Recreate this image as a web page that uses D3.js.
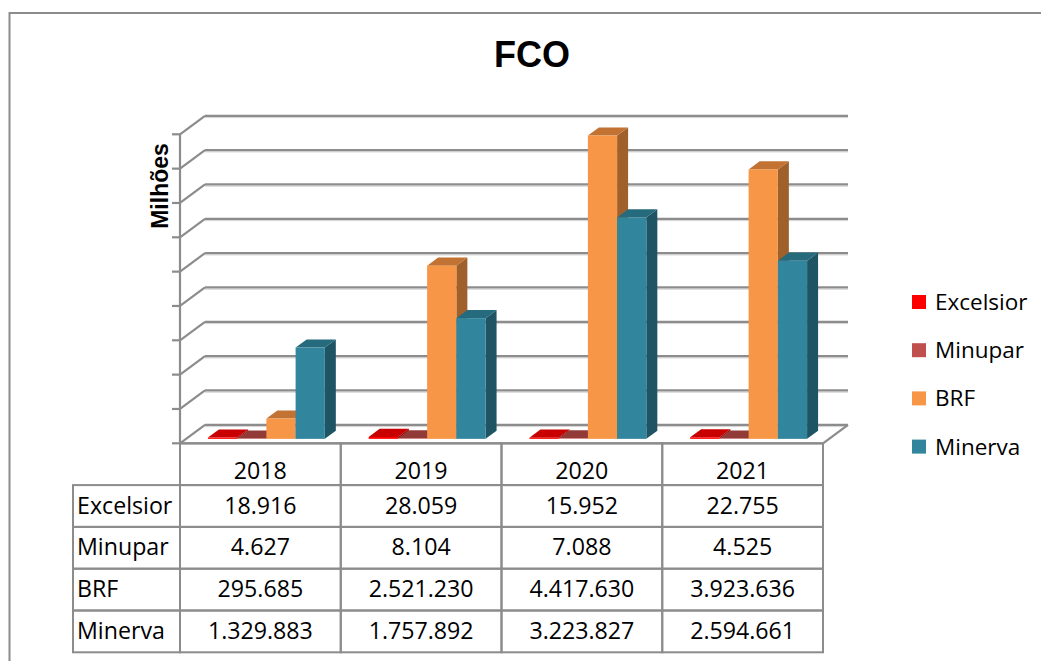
<!DOCTYPE html>
<html lang="pt">
<head>
    <meta charset="UTF-8">
    <title>FCO</title>
    <script src="https://d3js.org/d3.v7.min.js"></script>
    <style>
        body { margin: 0; background: #fff; }
        .grid { stroke: #8c8c8c; stroke-width: 2.2px; fill: none; }
        .grid-shadow { stroke: #d4d4d4; stroke-width: 1px; fill: none; }
        .cell { stroke: #8c8c8c; stroke-width: 2px; fill: none; }
        .tbl text { font-family: "Open Sans", sans-serif; font-size: 23.2px; fill: #000; }
        .legend text { font-family: "Open Sans", sans-serif; font-size: 22.5px; fill: #000; }
    </style>
</head>
<body>
<script>
    // dados (valores da tabela)
    const years = ["2018", "2019", "2020", "2021"];
    const seriesNames = ["Excelsior", "Minupar", "BRF", "Minerva"];
    const excelsior = [18916, 28059, 15952, 22755];
    const minupar = [4627, 8104, 7088, 4525];
    const brf = [295685, 2521230, 4417630, 3923636];
    const minerva = [1329883, 1757892, 3223827, 2594661];
    const yMax = 4500000;

    const values = [excelsior, minupar, brf, minerva];

    // cores: frente, topo, lateral
    const faceColors = [
        ["#ff0000", "#c80000", "#9a0000"],
        ["#c0504d", "#923a38", "#7a2e2c"],
        ["#f79646", "#c27333", "#a0602b"],
        ["#31859c", "#256a7d", "#1f5464"]
    ];

    const width = 1041, height = 661;
    const svg = d3.select("body").append("svg")
        .attr("width", width)
        .attr("height", height);

    // borda da área do gráfico
    svg.append("rect")
        .attr("x", 9.5).attr("y", 13)
        .attr("width", 1100).attr("height", 700)
        .attr("fill", "none").attr("stroke", "#8c8c8c").attr("stroke-width", 2);

    // título
    svg.append("text")
        .attr("x", 532).attr("y", 66.5)
        .attr("text-anchor", "middle")
        .style("font-family", "'Liberation Sans', Arial, sans-serif")
        .style("font-weight", "bold")
        .style("font-size", "36px")
        .text("FCO");

    // eixo y (título)
    svg.append("text")
        .attr("transform", "translate(168,186) rotate(-90)")
        .attr("text-anchor", "middle")
        .style("font-family", "'Liberation Sans', Arial, sans-serif")
        .style("font-weight", "bold")
        .style("font-size", "23px")
        .text("Milhões");

    // escalas
    const x = d3.scaleBand().domain(years).range([180, 823]);
    const xs = d3.scaleBand().domain(seriesNames)
        .range([0, x.bandwidth()])
        .paddingInner(0).paddingOuter(0.75);
    const y = d3.scaleLinear().domain([0, yMax]).range([443.3, 134.3]);

    // profundidade 3D
    const depth = [25, -18.5];
    const barFront = 0.24, barBack = 0.68;

    const ticks = y.ticks(9);
    const [x0, x1] = x.range();

    // parede do fundo
    const back = svg.append("g");
    ticks.forEach(t => {
        const yy = y(t) + depth[1];
        back.append("line").attr("class", "grid-shadow")
            .attr("x1", x0 + depth[0]).attr("x2", x1 + depth[0])
            .attr("y1", yy + 1.8).attr("y2", yy + 1.8);
        back.append("line").attr("class", "grid")
            .attr("x1", x0 + depth[0]).attr("x2", x1 + depth[0])
            .attr("y1", yy).attr("y2", yy);
        // parede lateral
        back.append("line").attr("class", "grid")
            .attr("x1", x0).attr("y1", y(t))
            .attr("x2", x0 + depth[0]).attr("y2", yy);
        // marcas
        back.append("line").attr("class", "grid")
            .attr("x1", x0 - 8).attr("x2", x0)
            .attr("y1", y(t)).attr("y2", y(t));
    });
    // eixo vertical
    back.append("line").attr("class", "grid")
        .attr("x1", x0).attr("x2", x0)
        .attr("y1", y(yMax)).attr("y2", y(0));
    // piso
    back.append("path").attr("class", "grid")
        .attr("d", `M${x0},${y(0)}L${x1},${y(0)}L${x1 + depth[0]},${y(0) + depth[1]}`);

    // barras
    const bars = svg.append("g");
    years.forEach((yr, c) => {
        seriesNames.forEach((s, i) => {
            const v = values[i][c];
            const bx = x(yr) + xs(s) + barFront * depth[0];
            const by = y(0) + barFront * depth[1];
            const bw = xs.bandwidth();
            const top = by - (y(0) - y(v));
            const dx = (barBack - barFront) * depth[0];
            const dy = (barBack - barFront) * depth[1];
            const col = faceColors[i];
            // lateral
            bars.append("path").attr("fill", col[2])
                .attr("d", `M${bx + bw},${by}L${bx + bw + dx},${by + dy}L${bx + bw + dx},${top + dy}L${bx + bw},${top}Z`);
            // topo
            bars.append("path").attr("fill", col[1])
                .attr("d", `M${bx},${top}L${bx + dx},${top + dy}L${bx + bw + dx},${top + dy}L${bx + bw},${top}Z`);
            // frente
            bars.append("rect").attr("fill", col[0])
                .attr("x", bx).attr("y", top)
                .attr("width", bw).attr("height", by - top);
        });
    });

    // tabela de dados
    const fmt = d3.formatLocale({ decimal: ",", thousands: ".", grouping: [3], currency: ["R$", ""] }).format(",d");
    const rowH = 41.8;
    const tbl = svg.append("g").attr("class", "tbl");
    const labelX0 = 73;
    // cabeçalho
    years.forEach(yr => {
        tbl.append("rect").attr("class", "cell")
            .attr("x", x(yr)).attr("y", y(0))
            .attr("width", x.bandwidth()).attr("height", rowH);
        tbl.append("text")
            .attr("x", x(yr) + x.bandwidth() / 2).attr("y", y(0) + rowH / 2 + 15)
            .attr("text-anchor", "middle").text(yr);
    });
    seriesNames.forEach((s, i) => {
        const ry = y(0) + rowH * (i + 1);
        tbl.append("rect").attr("class", "cell")
            .attr("x", labelX0).attr("y", ry)
            .attr("width", x0 - labelX0).attr("height", rowH);
        tbl.append("text")
            .attr("x", labelX0 + 4).attr("y", ry + rowH / 2 + 7.5)
            .text(s);
        years.forEach((yr, c) => {
            tbl.append("rect").attr("class", "cell")
                .attr("x", x(yr)).attr("y", ry)
                .attr("width", x.bandwidth()).attr("height", rowH);
            tbl.append("text")
                .attr("x", x(yr) + x.bandwidth() / 2).attr("y", ry + rowH / 2 + 7.5)
                .attr("text-anchor", "middle").text(fmt(values[i][c]));
        });
    });

    // legenda
    const legend = svg.append("g").attr("class", "legend");
    seriesNames.forEach((s, i) => {
        const ly = 302 + i * 48.2;
        legend.append("rect")
            .attr("x", 912).attr("y", ly - 7)
            .attr("width", 14).attr("height", 14)
            .attr("fill", faceColors[i][0]);
        legend.append("text")
            .attr("x", 935).attr("y", ly + 8)
            .text(s);
    });
</script>
</body>
</html>
